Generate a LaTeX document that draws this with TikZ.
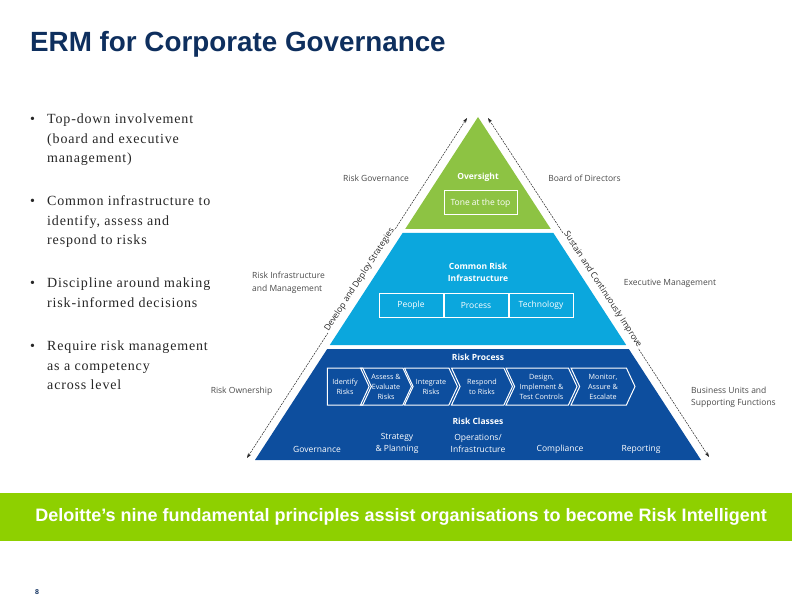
\documentclass[tikz,border=0pt]{standalone}
\usepackage{fontspec}
\setmainfont{Liberation Serif}
\newfontfamily\bulletfont{Liberation Serif}[LetterSpace=6]
\newfontfamily\headfont{Liberation Sans}
\newfontfamily\pyrfont{Open Sans}
\usetikzlibrary{positioning,shapes.symbols,arrows.meta}

\definecolor{ermnavy}{HTML}{0E2F5E}
\definecolor{ovgreen}{HTML}{8DC343}
\definecolor{infracyan}{HTML}{0BA7DD}
\definecolor{procblue}{HTML}{0D4E9E}
\definecolor{bannergreen}{HTML}{8ED000}
\definecolor{labelgray}{HTML}{4A4A4A}

\begin{document}
\begin{tikzpicture}[x=1pt,y=-1pt,
  % title and bullet styles
  slidetitle/.style={font=\headfont\bfseries\fontsize{27.8}{30}\selectfont, text=ermnavy, anchor=base west, inner sep=0},
  itemtext/.style={font=\bulletfont\fontsize{14}{19.5}\selectfont, text=black!85, anchor=north west, inner sep=0},
  % pyramid styles
  sidelabel/.style={font=\pyrfont\fontsize{8.5}{12.5}\selectfont, text=labelgray, align=left, inner sep=0},
  layertitle/.style={font=\pyrfont\bfseries\fontsize{8.5}{12}\selectfont, text=white, align=center, inner sep=0},
  cellbox/.style={draw=white, line width=1pt, text=white, font=\pyrfont\fontsize{8.5}{10}\selectfont,
    minimum height=24pt, inner sep=0},
  chev/.style={signal, signal to=east, signal pointer angle=130, draw=white, line width=1pt,
    minimum height=37pt, text=white, font=\pyrfont\fontsize{7.2}{10}\selectfont, align=center, inner sep=0},
  notched/.style={chev, signal from=west},
  classlabel/.style={font=\pyrfont\fontsize{8.5}{12}\selectfont, text=white, align=center, inner sep=0},
  flowarrow/.style={draw=black!85, line width=0.5pt, dash pattern=on 2pt off 1pt,
    {Stealth[length=5pt,width=3.5pt]}-{Stealth[length=5pt,width=3.5pt]}},
  alongtext/.style={font=\pyrfont\fontsize{8.5}{10}\selectfont, text=black!85, fill=white, inner sep=1pt, anchor=base},
  banner/.style={fill=bannergreen, minimum width=792pt, minimum height=48pt, inner sep=0,
    text=white, font=\headfont\bfseries\fontsize{18}{20}\selectfont}]

  \useasboundingbox (0,0) rectangle (792,612);

  % Title
  \node[slidetitle] (title) at (30,51.5) {ERM for Corporate Governance};

  % Bullet points
  \node[itemtext] (item1) at (30,109.7) {\begin{tabular}{@{}p{17pt}@{}l@{}}
    \textbullet & Top-down involvement\\ & (board and executive\\ & management)\end{tabular}};
  \node[itemtext] (item2) at (30,191.7) {\begin{tabular}{@{}p{17pt}@{}l@{}}
    \textbullet & Common infrastructure to\\ & identify, assess and\\ & respond to risks\end{tabular}};
  \node[itemtext] (item3) at (30,273.7) {\begin{tabular}{@{}p{17pt}@{}l@{}}
    \textbullet & Discipline around making\\ & risk-informed decisions\end{tabular}};
  \node[itemtext] (item4) at (30,336.7) {\begin{tabular}{@{}p{17pt}@{}l@{}}
    \textbullet & Require risk management\\ & as a competency\\ & across level\end{tabular}};

  % Pyramid layers
  \fill[ovgreen] (478,117) -- (550.8,229) -- (405.2,229) -- cycle;
  \fill[infracyan] (402.6,233) -- (553.4,233) -- (626.2,345) -- (329.8,345) -- cycle;
  \fill[procblue] (327.2,349) -- (628.8,349) -- (701,460) -- (255,460) -- cycle;

  % Oversight layer
  \node[layertitle] (oversight) at (478,177) {Oversight};
  \node[cellbox, minimum width=73pt] (tone) at (480.5,203) {Tone at the top};

  % Common risk infrastructure layer
  \node[layertitle] (infra) at (478,272) {Common Risk\\Infrastructure};
  \node[cellbox, minimum width=64pt] (people) at (411,305.5) {People};
  \node[cellbox, minimum width=64pt, right=0pt of people] (process) {Process};
  \node[cellbox, minimum width=64pt, right=0pt of process] (technology) {Technology};

  % Risk process layer
  \node[layertitle] (riskprocess) at (478,357) {Risk Process};
  \node[chev, minimum width=44pt] (identify) at (345,386.5) {Identify\\Risks};
  \node[notched, minimum width=51pt] (assess) at (386,386.5) {Assess \&\\Evaluate\\Risks};
  \node[notched, minimum width=53pt] (integrate) at (431,386.5) {Integrate\\Risks};
  \node[notched, minimum width=61pt] (respond) at (482,386.5) {Respond\\to Risks};
  \node[notched, minimum width=71pt] (design) at (541.5,386.5) {Design,\\Implement \&\\Test Controls};
  \node[notched, minimum width=64pt] (monitor) at (603,386.5) {Monitor,\\Assure \&\\Escalate};

  % Risk classes
  \node[layertitle] (riskclasses) at (478,421) {Risk Classes};
  \node[classlabel] (governance) at (317,449) {Governance};
  \node[classlabel] (strategy) at (397,443) {Strategy\\\& Planning};
  \node[classlabel] (operations) at (478,443) {Operations/\\Infrastructure};
  \node[classlabel] (compliance) at (560,449) {Compliance};
  \node[classlabel] (reporting) at (641,449) {Reporting};

  % Side labels
  \node[sidelabel] (riskgov) at (376,178) {Risk Governance};
  \node[sidelabel] (board) at (584.5,178) {Board of Directors};
  \node[sidelabel, anchor=west] (riskinfra) at (252,283) {Risk Infrastructure\\and Management};
  \node[sidelabel] (execmgmt) at (670,283) {Executive Management};
  \node[sidelabel] (riskown) at (241.5,391) {Risk Ownership};
  \node[sidelabel, anchor=west] (busunits) at (691,397.5) {Business Units and\\Supporting Functions};

  % Strategy and improvement arrows
  \coordinate (devlow) at (247,458);
  \coordinate (devtop) at (467,118);
  \coordinate (suslow) at (709,457);
  \coordinate (sustop) at (488,118);
  \draw[flowarrow] (devlow) -- (devtop);
  \draw[flowarrow] (sustop) -- (suslow);
  \path (devlow) -- (devtop) node[alongtext, pos=0.52, rotate=57] (develop) {Develop and Deploy Strategies};
  \path (sustop) -- (suslow) node[alongtext, pos=0.51, rotate=-57] (sustain) {Sustain and Continuously Improve};

  % Banner and page number
  \node[banner] (bannerbar) at (396,517) {\hspace{10pt}Deloitte’s nine fundamental principles assist organisations to become Risk Intelligent};
  \node[font=\headfont\bfseries\fontsize{7}{8}\selectfont, text=ermnavy, inner sep=0] (pagenum) at (37,592) {8};
\end{tikzpicture}
\end{document}
